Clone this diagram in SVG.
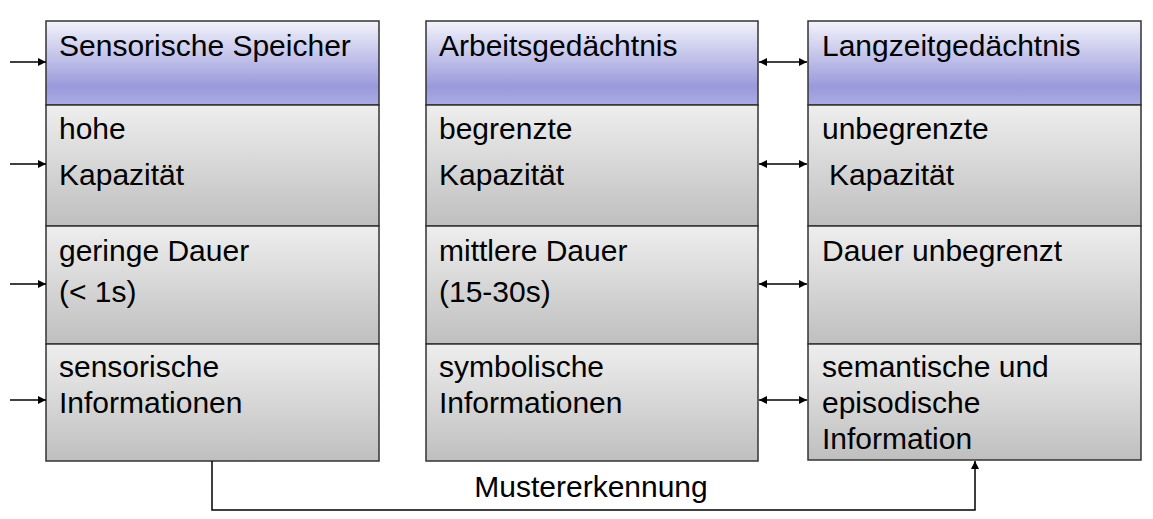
<svg xmlns="http://www.w3.org/2000/svg" width="1153" height="519" viewBox="0 0 1153 519">
<defs>
<linearGradient id="hdr" x1="0" y1="0" x2="0" y2="1">
<stop offset="0" stop-color="#f3f3fb"/>
<stop offset="0.78" stop-color="#9a9adc"/>
<stop offset="1" stop-color="#ababe4"/>
</linearGradient>
<linearGradient id="row" x1="0" y1="0" x2="0" y2="1">
<stop offset="0" stop-color="#eeeeee"/>
<stop offset="1" stop-color="#bfbfbf"/>
</linearGradient>
<marker id="ah" viewBox="0 0 10 10" refX="10" refY="5" markerWidth="9" markerHeight="8" markerUnits="userSpaceOnUse" orient="auto-start-reverse">
<path d="M0,0 L10,5 L0,10 z" fill="#000"/>
</marker>
</defs>
<style>
.h{fill:url(#hdr);stroke:#333;stroke-width:1.5}
.r{fill:url(#row);stroke:#333;stroke-width:1.5}
text{font-family:"Liberation Sans",Arial,sans-serif;font-size:30px;fill:#000}
.c{fill:none;stroke:#000;stroke-width:1.5}
</style>
<g id="sensorische-speicher">
<rect class="h" x="46" y="21" width="333" height="84"/>
<rect class="r" x="46" y="105" width="333" height="121"/>
<rect class="r" x="46" y="226" width="333" height="118"/>
<rect class="r" x="46" y="344" width="333" height="117"/>
<text x="59" y="56">Sensorische Speicher</text>
<text x="59" y="139">hohe</text>
<text x="59" y="185">Kapazität</text>
<text x="59" y="261">geringe Dauer</text>
<text x="59" y="302">(&lt; 1s)</text>
<text x="59" y="377">sensorische</text>
<text x="59" y="413">Informationen</text>
</g>
<g id="arbeitsgedaechtnis">
<rect class="h" x="426" y="21" width="332" height="84"/>
<rect class="r" x="426" y="105" width="332" height="121"/>
<rect class="r" x="426" y="226" width="332" height="118"/>
<rect class="r" x="426" y="344" width="332" height="117"/>
<text x="439" y="56">Arbeitsgedächtnis</text>
<text x="439" y="139">begrenzte</text>
<text x="439" y="185">Kapazität</text>
<text x="439" y="261">mittlere Dauer</text>
<text x="439" y="302">(15-30s)</text>
<text x="439" y="377">symbolische</text>
<text x="439" y="413">Informationen</text>
</g>
<g id="langzeitgedaechtnis">
<rect class="h" x="808" y="21" width="333" height="84"/>
<rect class="r" x="808" y="105" width="333" height="121"/>
<rect class="r" x="808" y="226" width="333" height="118"/>
<rect class="r" x="808" y="344" width="333" height="116"/>
<text x="822" y="56">Langzeitgedächtnis</text>
<text x="822" y="139">unbegrenzte</text>
<text x="829" y="185">Kapazität</text>
<text x="822" y="261">Dauer unbegrenzt</text>
<text x="822" y="377">semantische und</text>
<text x="822" y="413">episodische</text>
<text x="822" y="449">Information</text>
</g>
<g id="connectors">
<line class="c" x1="10" y1="62" x2="46" y2="62" marker-end="url(#ah)"/>
<line class="c" x1="10" y1="164" x2="46" y2="164" marker-end="url(#ah)"/>
<line class="c" x1="10" y1="284" x2="46" y2="284" marker-end="url(#ah)"/>
<line class="c" x1="10" y1="400" x2="46" y2="400" marker-end="url(#ah)"/>
<line class="c" x1="759" y1="62" x2="807" y2="62" marker-start="url(#ah)" marker-end="url(#ah)"/>
<line class="c" x1="759" y1="164" x2="807" y2="164" marker-start="url(#ah)" marker-end="url(#ah)"/>
<line class="c" x1="759" y1="284" x2="807" y2="284" marker-start="url(#ah)" marker-end="url(#ah)"/>
<line class="c" x1="759" y1="400" x2="807" y2="400" marker-start="url(#ah)" marker-end="url(#ah)"/>
<polyline class="c" points="212,461 212,510 975,510 975,461" marker-end="url(#ah)"/>
<text x="591" y="497" text-anchor="middle">Mustererkennung</text>
</g>
</svg>
